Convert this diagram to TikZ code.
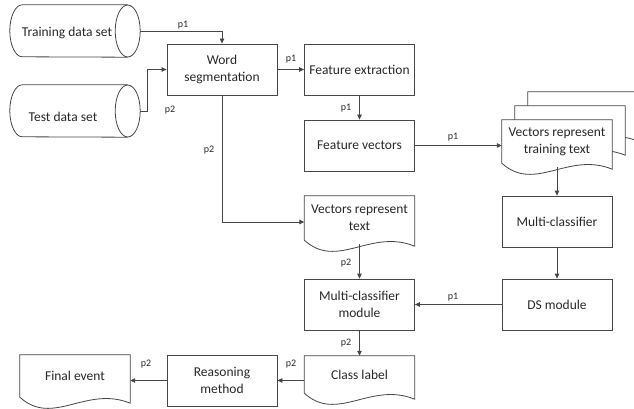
\documentclass[tikz,border=0pt]{standalone}
\usepackage{fontspec}
\setmainfont{Carlito}
\usetikzlibrary{arrows.meta,calc,backgrounds}
\definecolor{ln}{RGB}{70,70,70}
\definecolor{tx}{RGB}{40,40,40}
\newcommand\docoutline[1]{\draw[line,fill=white] (#1.south west) -- (#1.north west) -- (#1.north east) -- ($(#1.south east)+(0,6)$) .. controls ($(#1.south west)!0.6!(#1.south east)+(0,-12)$) and ($(#1.south west)!0.3!(#1.south east)+(0,30)$) .. (#1.south west) -- cycle;}
\newcommand\cyloutline[1]{%
  \draw[line] ($(#1.north east)+(-12.5,0)$) -- ($(#1.north west)+(12.5,0)$) arc[start angle=270,end angle=90,x radius=12.5,y radius=26] -- ($(#1.south east)+(-12.5,0)$);
  \draw[line] ($(#1.east)+(-12.5,0)$) ellipse[x radius=12.5,y radius=26];}
\begin{document}
\begin{tikzpicture}[x=1pt,y=-1pt,
  line/.style={draw=ln,line width=0.8pt},
  arr/.style={line,-{Triangle[length=5pt,width=4.5pt]}},
  mainfont/.style={font=\fontsize{13.5}{17}\selectfont,text=tx},
  box/.style={mainfont,draw=ln,line width=0.8pt,minimum width=110pt,minimum height=51pt,inner sep=2pt,align=center},
  doc/.style={mainfont,minimum width=110pt,inner sep=2pt,align=center},
  cylshape/.style={minimum width=130pt,minimum height=52pt,inner sep=0pt},
  txt/.style={mainfont,inner sep=0pt},
  lbl/.style={font=\fontsize{10}{12}\selectfont,text=tx,inner sep=0pt}]
\useasboundingbox (0,0) rectangle (634,409);
\clip (0,0) rectangle (634,409);
% nodes
\node[cylshape] (train) at (75,31) {};
\node[txt] (traintxt) at (67,33) {Training data set};
\node[cylshape] (test) at (75,111) {};
\node[txt] (testtxt) at (63,117) {Test data set};
\node[box] (wordseg) at (222,69.5) {Word\\segmentation};
\node[box] (featext) at (359.5,69.5) {Feature extraction};
\node[box] (featvec) at (359.5,145.5) {Feature vectors};
\node[doc,minimum height=43pt] (vrtt3) at (583,113.5) {};
\node[doc,minimum height=43pt] (vrtt2) at (570,127.5) {};
\node[doc,minimum height=43pt] (vrtt) at (557,141.5) {Vectors represent\\training text};
\node[box] (mcls) at (557,221.5) {Multi-classifier};
\node[box] (ds) at (557,304.5) {DS module};
\node[doc,minimum height=44pt] (vrt) at (359.5,218) {Vectors represent\\text};
\node[box] (mcm) at (359.5,304.5) {Multi-classifier\\module};
\node[doc,minimum height=37pt] (classl) at (359.5,374.5) {Class label};
\node[box] (reason) at (222,380.5) {Reasoning\\method};
\node[doc,minimum height=42pt] (final) at (75,376) {Final event};
% outlines
\begin{pgfonlayer}{background}
\cyloutline{train}
\cyloutline{test}
\docoutline{vrtt3}
\docoutline{vrtt2}
\docoutline{vrtt}
\docoutline{vrt}
\docoutline{classl}
\docoutline{final}
\end{pgfonlayer}
% connectors
\draw[arr] (train.east) -| (wordseg.north);
\draw[arr] (test.east) -- ++(7,0) |- (wordseg.west);
\draw[arr] (wordseg.east) -- (featext.west);
\draw[arr] (featext.south) -- (featvec.north);
\draw[arr] (featvec.east) -- (featvec.east -| vrtt.west);
\draw[arr] ($(vrtt.south)+(0,4)$) -- (mcls.north);
\draw[arr] (mcls.south) -- (ds.north);
\draw[arr] (ds.west) -- (mcm.east);
\draw[arr] (wordseg.south) |- ($(vrt.west)+(0,4)$);
\draw[arr] ($(vrt.south)+(0,4)$) -- (mcm.north);
\draw[arr] (mcm.south) -- (classl.north);
\draw[arr] (classl.west |- reason.east) -- (reason.east);
\draw[arr] (reason.west) -- (reason.west -| final.east);
% labels
\node[lbl] (l1) at (183,25) {p1};
\node[lbl] (l2) at (170,110) {p2};
\node[lbl] (l3) at (291,59) {p1};
\node[lbl] (l4) at (346,108) {p1};
\node[lbl] (l5) at (453,137) {p1};
\node[lbl] (l6) at (453,297) {p1};
\node[lbl] (l7) at (209,150) {p2};
\node[lbl] (l8) at (346,263) {p2};
\node[lbl] (l9) at (346,343) {p2};
\node[lbl] (l10) at (291,364) {p2};
\node[lbl] (l11) at (146,364) {p2};
\end{tikzpicture}
\end{document}
